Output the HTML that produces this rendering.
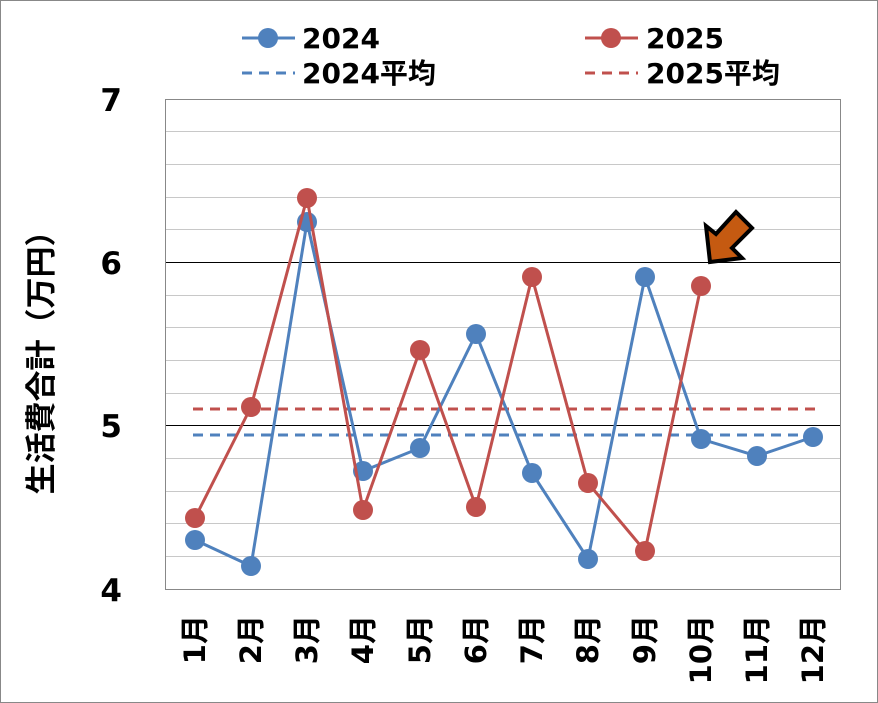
<!DOCTYPE html>
<html><head><meta charset="utf-8"><style>
body{margin:0;background:#fff}
svg{display:block}
text{font-family:"DejaVu Sans","Noto Sans CJK JP",sans-serif;font-weight:bold}
</style></head><body>
<svg width="878" height="703" viewBox="0 0 878 703">
<rect x="0.5" y="0.5" width="877" height="702" fill="#fff" stroke="#888"/>
<g stroke="#c8c8c8" stroke-width="1">
<line x1="165" x2="840" y1="131.5" y2="131.5"/><line x1="165" x2="840" y1="164.5" y2="164.5"/>
<line x1="165" x2="840" y1="197.5" y2="197.5"/><line x1="165" x2="840" y1="229.5" y2="229.5"/>
<line x1="165" x2="840" y1="295.5" y2="295.5"/><line x1="165" x2="840" y1="327.5" y2="327.5"/>
<line x1="165" x2="840" y1="360.5" y2="360.5"/><line x1="165" x2="840" y1="393.5" y2="393.5"/>
<line x1="165" x2="840" y1="458.5" y2="458.5"/><line x1="165" x2="840" y1="491.5" y2="491.5"/>
<line x1="165" x2="840" y1="523.5" y2="523.5"/><line x1="165" x2="840" y1="556.5" y2="556.5"/>
</g>
<g stroke="#000" stroke-width="1">
<line x1="165" x2="840" y1="262.5" y2="262.5"/><line x1="165" x2="840" y1="425.5" y2="425.5"/>
</g>
<rect x="165.5" y="99.5" width="675" height="490" fill="none" stroke="#888"/>
<g font-size="31" text-anchor="end" fill="#000">
<text x="122" y="111">7</text><text x="122" y="274">6</text><text x="122" y="437">5</text><text x="122" y="601">4</text>
</g>
<text transform="translate(52,355) rotate(-90)" font-size="31" text-anchor="middle">生活費合計（万円）</text>
<g font-size="29" text-anchor="end">
<text transform="translate(205,615) rotate(-90)">1月</text>
<text transform="translate(261,615) rotate(-90)">2月</text>
<text transform="translate(317,615) rotate(-90)">3月</text>
<text transform="translate(373,615) rotate(-90)">4月</text>
<text transform="translate(430,615) rotate(-90)">5月</text>
<text transform="translate(486,615) rotate(-90)">6月</text>
<text transform="translate(542,615) rotate(-90)">7月</text>
<text transform="translate(598,615) rotate(-90)">8月</text>
<text transform="translate(655,615) rotate(-90)">9月</text>
<text transform="translate(711,615) rotate(-90)">10月</text>
<text transform="translate(767,615) rotate(-90)">11月</text>
<text transform="translate(823,615) rotate(-90)">12月</text>
</g>
<line x1="193" x2="815" y1="435" y2="435" stroke="#4f81bd" stroke-width="3" stroke-dasharray="10,7"/>
<line x1="193" x2="815" y1="409" y2="409" stroke="#c0504d" stroke-width="3" stroke-dasharray="10,7"/>
<polyline fill="none" stroke="#4f81bd" stroke-width="3" points="195,540 251,566 307,222 363,471 420,448 476,334 532,473 588,559 645,277 701,439 757,456 813,437"/>
<g fill="#4f81bd">
<circle cx="195" cy="540" r="10"/><circle cx="251" cy="566" r="10"/><circle cx="307" cy="222" r="10"/><circle cx="363" cy="471" r="10"/><circle cx="420" cy="448" r="10"/><circle cx="476" cy="334" r="10"/><circle cx="532" cy="473" r="10"/><circle cx="588" cy="559" r="10"/><circle cx="645" cy="277" r="10"/><circle cx="701" cy="439" r="10"/><circle cx="757" cy="456" r="10"/><circle cx="813" cy="437" r="10"/>
</g>
<polyline fill="none" stroke="#c0504d" stroke-width="3" points="195,518 251,407 307,198 363,510 420,350 476,507 532,277 588,483 645,551 701,286"/>
<g fill="#c0504d">
<circle cx="195" cy="518" r="10"/><circle cx="251" cy="407" r="10"/><circle cx="307" cy="198" r="10"/><circle cx="363" cy="510" r="10"/><circle cx="420" cy="350" r="10"/><circle cx="476" cy="507" r="10"/><circle cx="532" cy="277" r="10"/><circle cx="588" cy="483" r="10"/><circle cx="645" cy="551" r="10"/><circle cx="701" cy="286" r="10"/>
</g>
<polygon points="710,262 706,226 716,234 736,212 752,228 732,248 742,258" fill="#c55a11" stroke="#000" stroke-width="4" stroke-linejoin="miter"/>
<line x1="242" x2="295" y1="38" y2="38" stroke="#4f81bd" stroke-width="3"/><circle cx="268" cy="38" r="10" fill="#4f81bd"/>
<text x="302" y="48" font-size="28">2024</text>
<line x1="585" x2="638" y1="38" y2="38" stroke="#c0504d" stroke-width="3"/><circle cx="611" cy="38" r="10" fill="#c0504d"/>
<text x="646" y="48" font-size="28">2025</text>
<line x1="242" x2="295" y1="73" y2="73" stroke="#4f81bd" stroke-width="3" stroke-dasharray="10,7"/>
<text x="302" y="83" font-size="28">2024平均</text>
<line x1="585" x2="638" y1="73" y2="73" stroke="#c0504d" stroke-width="3" stroke-dasharray="10,7"/>
<text x="646" y="83" font-size="28">2025平均</text>
</svg>
</body></html>
